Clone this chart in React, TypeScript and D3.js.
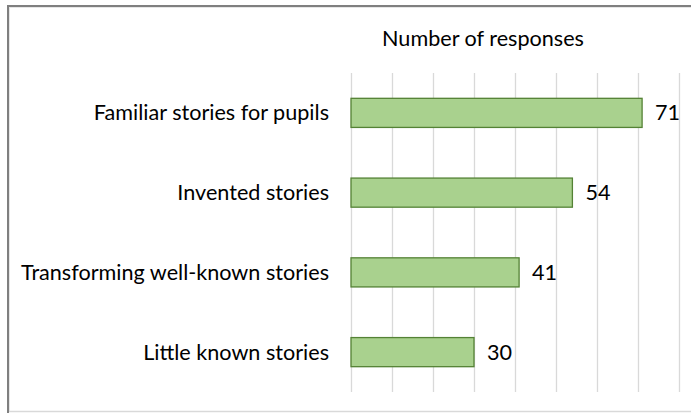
import { useEffect, useRef } from 'react';
import * as d3 from 'd3';

const categories = [
  'Familiar stories for pupils',
  'Invented stories',
  'Transforming well-known stories',
  'Little known stories',
];
const responses = [71, 54, 41, 30];
const xTicks = [0, 10, 20, 30, 40, 50, 60, 70, 80];
const chartTitle = 'Number of responses';

export default function App() {
  const svgRef = useRef<SVGSVGElement | null>(null);

  useEffect(() => {
    document.body.style.margin = '0';
    if (!svgRef.current) return;

    const width = 691;
    const height = 413;
    const font = 'Lato, "Noto Sans", sans-serif';
    const fontSize = '21.6px';

    const svg = d3.select(svgRef.current);
    svg.selectAll('*').remove();
    svg.attr('width', width).attr('height', height);

    // frame (cropped on the right)
    svg.append('rect')
      .attr('x', 0).attr('y', 0).attr('width', width).attr('height', height)
      .attr('fill', '#fff');
    svg.append('line')
      .attr('x1', 8).attr('x2', 8).attr('y1', 5).attr('y2', 413)
      .attr('stroke', '#7f7f7f').attr('stroke-width', 2);
    svg.append('line')
      .attr('x1', 7).attr('x2', width).attr('y1', 6).attr('y2', 6)
      .attr('stroke', '#7f7f7f').attr('stroke-width', 2);
    svg.append('line')
      .attr('x1', 10).attr('x2', width).attr('y1', 7.5).attr('y2', 7.5)
      .attr('stroke', '#e6e6e6').attr('stroke-width', 1);
    svg.append('line')
      .attr('x1', 9.5).attr('x2', 9.5).attr('y1', 7).attr('y2', 412)
      .attr('stroke', '#e6e6e6').attr('stroke-width', 1);
    svg.append('line')
      .attr('x1', 9).attr('x2', width).attr('y1', 411.5).attr('y2', 411.5)
      .attr('stroke', '#d9d9d9').attr('stroke-width', 1.5);

    const x = d3.scaleLinear().domain([0, 80]).range([351, 679]);
    const y = d3.scaleBand<string>()
      .domain(categories)
      .range([73, 392])
      .paddingInner(0.635)
      .paddingOuter(0.3175);

    // Grid
    svg.append('g')
      .selectAll('line')
      .data(xTicks)
      .join('line')
      .attr('x1', d => Math.round(x(d)) + 0.5)
      .attr('x2', d => Math.round(x(d)) + 0.5)
      .attr('y1', 73)
      .attr('y2', 392)
      .attr('stroke', '#d9d9d9')
      .attr('stroke-width', 1.3);

    // Title
    svg.append('text')
      .attr('x', 483)
      .attr('y', 46)
      .attr('text-anchor', 'middle')
      .attr('font-family', font)
      .attr('font-size', fontSize)
      .attr('fill', '#000')
      .text(chartTitle);

    // Bars
    svg.append('g')
      .selectAll('rect')
      .data(responses)
      .join('rect')
      .attr('x', x(0))
      .attr('y', (d, i) => y(categories[i])!)
      .attr('width', d => x(d) - x(0))
      .attr('height', y.bandwidth())
      .attr('fill', '#a9d18e')
      .attr('stroke', '#548235')
      .attr('stroke-width', 1.3);

    // Value labels
    svg.append('g')
      .selectAll('text')
      .data(responses)
      .join('text')
      .attr('x', d => x(d) + 13)
      .attr('y', (d, i) => y(categories[i])! + y.bandwidth() / 2)
      .attr('dy', '0.35em')
      .attr('font-family', font)
      .attr('font-size', fontSize)
      .attr('fill', '#000')
      .text(d => d);

    // Category labels
    svg.append('g')
      .selectAll('text')
      .data(categories)
      .join('text')
      .attr('x', 329)
      .attr('y', d => y(d)! + y.bandwidth() / 2)
      .attr('dy', '0.35em')
      .attr('text-anchor', 'end')
      .attr('font-family', font)
      .attr('font-size', fontSize)
      .attr('fill', '#000')
      .text(d => d);
  }, []);

  return <svg ref={svgRef} style={{ display: 'block' }}></svg>;
}
